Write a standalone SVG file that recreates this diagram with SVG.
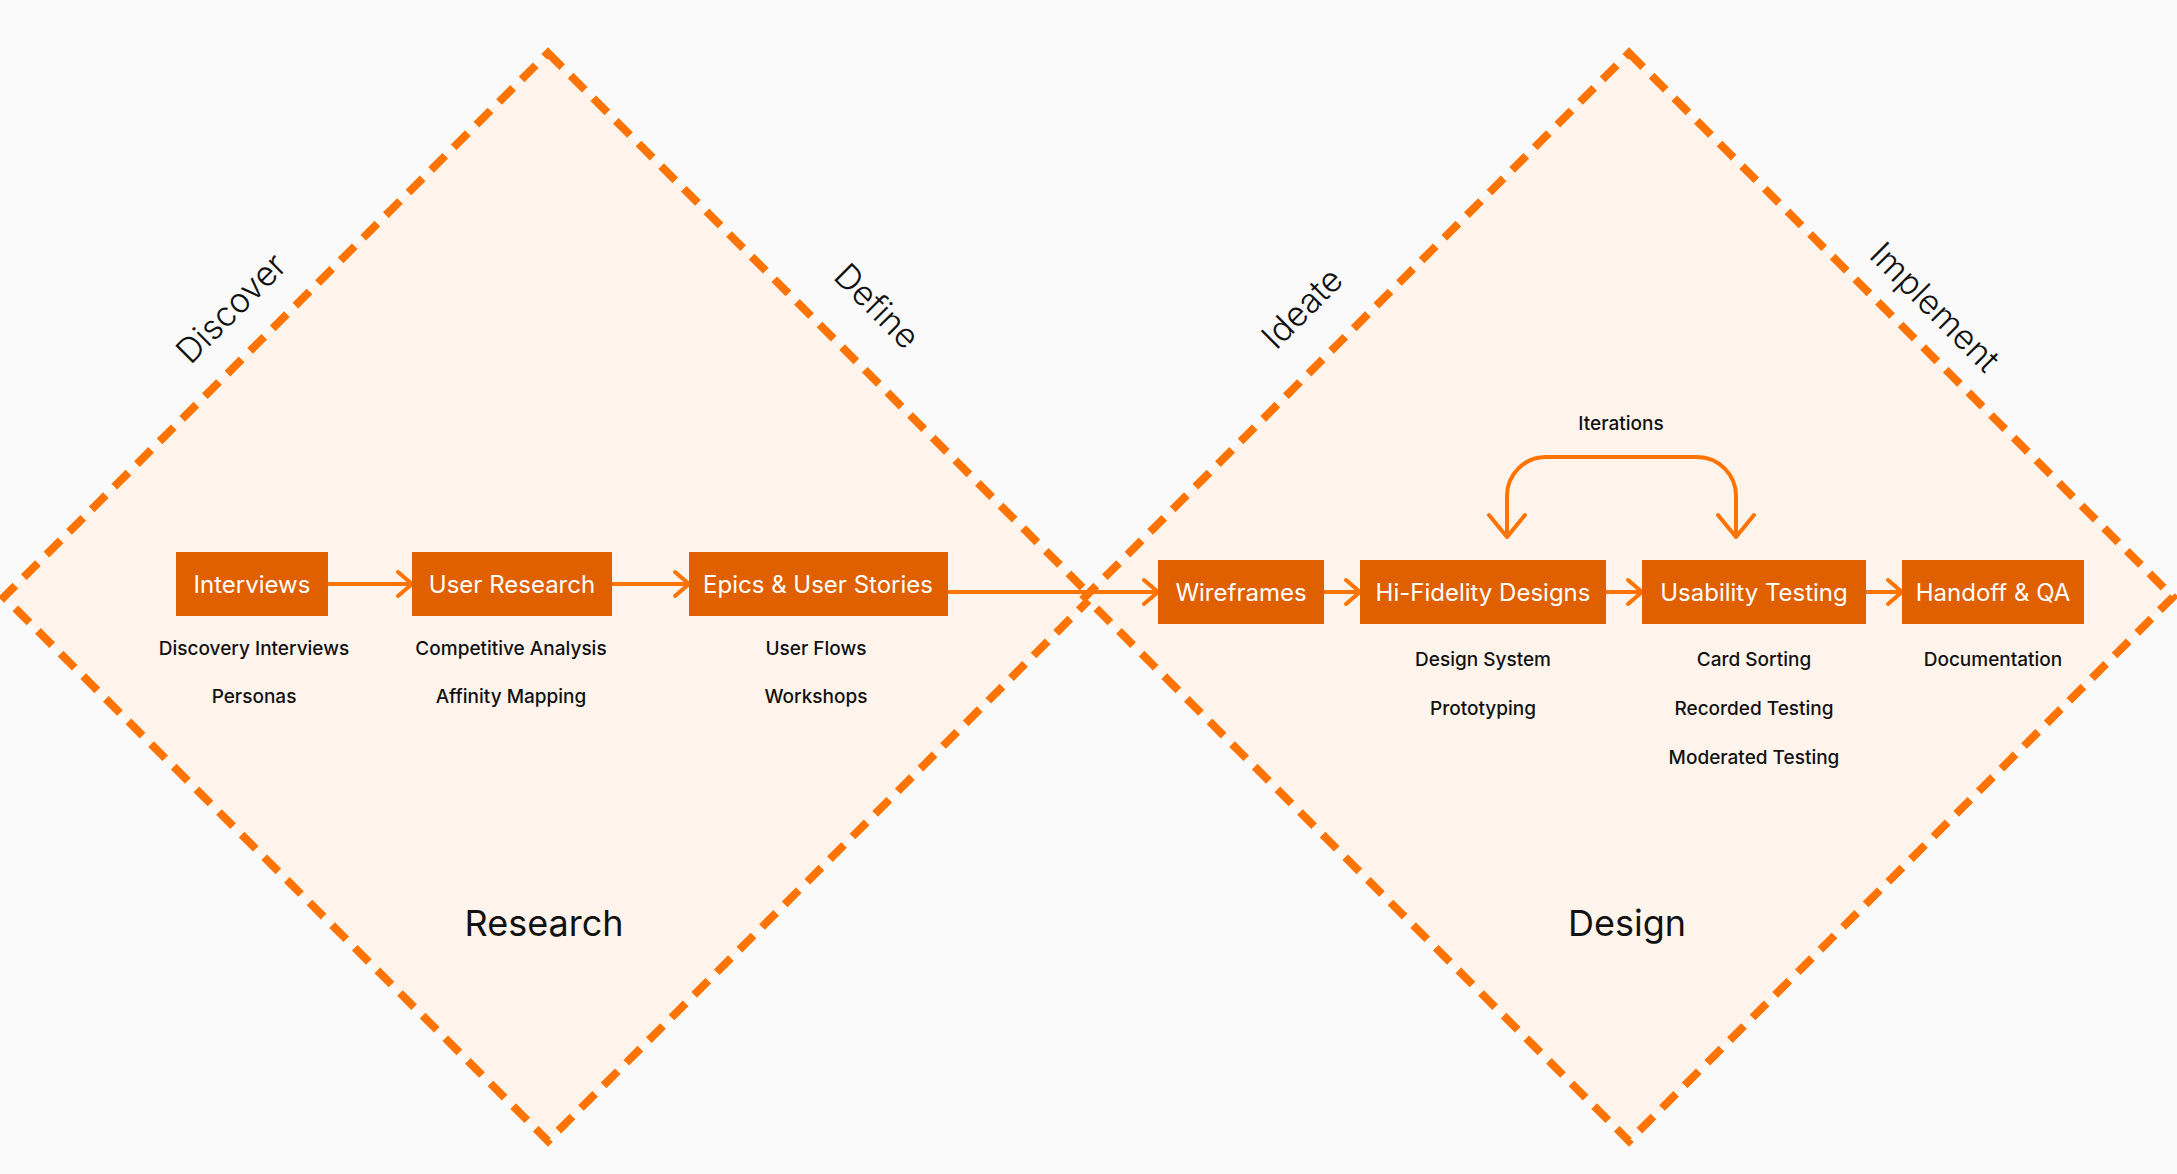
<svg xmlns="http://www.w3.org/2000/svg" width="2177" height="1174" viewBox="0 0 2177 1174">
<defs>
<style>
.dia{fill:#FFF4EC;stroke:#FF7300;stroke-width:8;stroke-dasharray:20 12}
.box{fill:#E06000}
.bl{font-family:Inter,"Noto Sans",sans-serif;font-size:24px;fill:#FFFFFF;text-anchor:middle}
.sub{font-family:Inter,"Noto Sans",sans-serif;font-size:19px;font-weight:500;fill:#111111;text-anchor:middle}
.big{font-family:Inter,"Noto Sans",sans-serif;font-size:36px;fill:#111111;text-anchor:middle}
.ph{font-family:Inter,"Noto Sans",sans-serif;font-size:34px;font-weight:300;fill:#111111;text-anchor:middle}
.con{fill:none;stroke:#FF7300;stroke-width:4;stroke-linecap:round;stroke-linejoin:round}
</style>
</defs>
<rect width="2177" height="1174" fill="#FAFAFA"/>
<g id="diamonds">
<polygon class="dia" points="548,53 1092,597 548,1141 4,597"/>
<polygon class="dia" points="1629,53 2173,597 1629,1141 1085,597"/>
</g>
<g id="phase-labels">
<text class="ph" x="231" y="320" transform="rotate(-45 231 308)">Discover</text>
<text class="ph" x="877" y="318" transform="rotate(45 877 306)">Define</text>
<text class="ph" x="1302" y="320" transform="rotate(-45 1302 308)">Ideate</text>
<text class="ph" x="1935" y="319" transform="rotate(45 1935 307)">Implement</text>
<text class="big" x="544" y="936">Research</text>
<text class="big" x="1627" y="936">Design</text>
</g>
<g id="connectors">
<path class="con" d="M328,584 H412 M398,572 L412,584 L398,596"/>
<path class="con" d="M612,584 H689 M675,572 L689,584 L675,596"/>
<path class="con" d="M948,592 H1158 M1144,580 L1158,592 L1144,604"/>
<path class="con" d="M1324,592 H1360 M1346,580 L1360,592 L1346,604"/>
<path class="con" d="M1606,592 H1642 M1628,580 L1642,592 L1628,604"/>
<path class="con" d="M1866,592 H1902 M1888,580 L1902,592 L1888,604"/>
<path class="con" d="M1507,537 V496 A39,39 0 0 1 1546,457 H1697 A39,39 0 0 1 1736,496 V537 M1489,515 L1507,537 L1525,515 M1718,515 L1736,537 L1754,515"/>
<text class="sub" x="1621" y="430">Iterations</text>
</g>
<g id="interviews">
<rect class="box" x="176" y="552" width="152" height="64"/>
<text class="bl" x="252" y="593">Interviews</text>
<text class="sub" x="254" y="655">Discovery Interviews</text>
<text class="sub" x="254" y="703">Personas</text>
</g>
<g id="user-research">
<rect class="box" x="412" y="552" width="200" height="64"/>
<text class="bl" x="512" y="593">User Research</text>
<text class="sub" x="511" y="655">Competitive Analysis</text>
<text class="sub" x="511" y="703">Affinity Mapping</text>
</g>
<g id="epics">
<rect class="box" x="689" y="552" width="259" height="64"/>
<text class="bl" x="818" y="593">Epics &amp; User Stories</text>
<text class="sub" x="816" y="655">User Flows</text>
<text class="sub" x="816" y="703">Workshops</text>
</g>
<g id="wireframes">
<rect class="box" x="1158" y="560" width="166" height="64"/>
<text class="bl" x="1241" y="601">Wireframes</text>
</g>
<g id="hifi">
<rect class="box" x="1360" y="560" width="246" height="64"/>
<text class="bl" x="1483" y="601">Hi-Fidelity Designs</text>
<text class="sub" x="1483" y="666">Design System</text>
<text class="sub" x="1483" y="715">Prototyping</text>
</g>
<g id="usability">
<rect class="box" x="1642" y="560" width="224" height="64"/>
<text class="bl" x="1754" y="601">Usability Testing</text>
<text class="sub" x="1754" y="666">Card Sorting</text>
<text class="sub" x="1754" y="715">Recorded Testing</text>
<text class="sub" x="1754" y="764">Moderated Testing</text>
</g>
<g id="handoff">
<rect class="box" x="1902" y="560" width="182" height="64"/>
<text class="bl" x="1993" y="601">Handoff &amp; QA</text>
<text class="sub" x="1993" y="666">Documentation</text>
</g>
</svg>
